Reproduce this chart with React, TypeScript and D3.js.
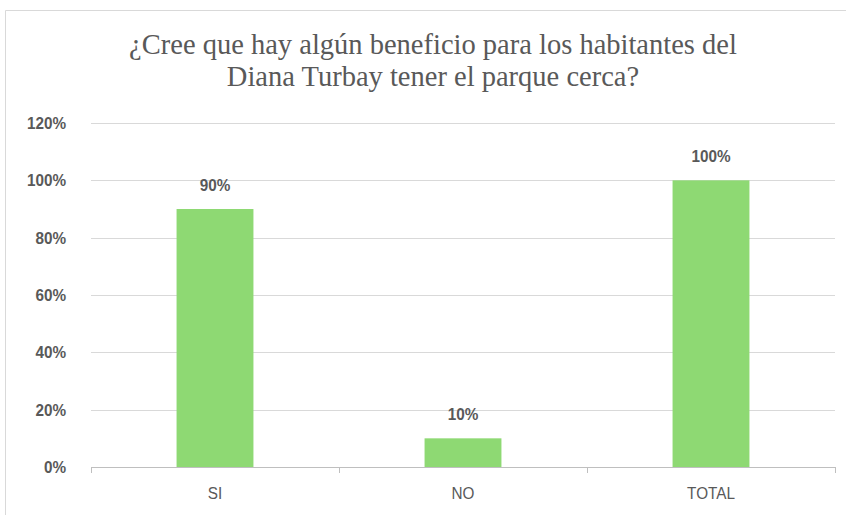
import React from "react";
import * as d3 from "d3";

const categories = ["SI", "NO", "TOTAL"];
const values = [0.9, 0.1, 1.0];
const valueLabels = ["90%", "10%", "100%"];
const yTicks = [0, 0.2, 0.4, 0.6, 0.8, 1.0, 1.2];
const titleLines = [
  "¿Cree que hay algún beneficio para los habitantes del",
  "Diana Turbay tener el parque cerca?",
];

const W = 846;
const H = 515;
const margin = { left: 91, right: 11, top: 123, bottom: 48 };
const sans = "'Liberation Sans', Arial, sans-serif";
const SX = 0.9;

function NText({ x, y, anchor, bold, size, children }: any) {
  return (
    <text
      transform={`translate(${x},${y}) scale(${SX},1)`}
      textAnchor={anchor}
      fontFamily={sans}
      fontWeight={bold ? "bold" : "normal"}
      fontSize={size}
      fill="#595959"
    >
      {children}
    </text>
  );
}

export default function App() {
  const x = d3
    .scaleBand<string>()
    .domain(categories)
    .range([margin.left, W - margin.right])
    .paddingInner(0.69)
    .paddingOuter(0.345);
  const y = d3.scaleLinear().domain([0, 1.2]).range([H - margin.bottom, margin.top]);
  const bandEdges = d3.scaleBand<string>().domain(categories).range([margin.left, W - margin.right]);
  const tickXs = [...categories.map((c) => bandEdges(c)!), W - margin.right];

  return (
    <svg
      width={W}
      height={H}
      style={{ position: "absolute", left: 0, top: 0, background: "#fff" }}
    >
      <rect x={0} y={0} width={W} height={H} fill="#fff" />
      <path d={`M5.5,${H} V10.5 H${W}`} fill="none" stroke="#d9d9d9" strokeWidth={1} />
      {titleLines.map((t, i) => (
        <text
          key={i}
          x={433}
          y={54 + i * 32}
          textAnchor="middle"
          fontFamily="'Liberation Serif', 'Times New Roman', serif"
          fontSize={28.5}
          fill="#595959"
        >
          {t}
        </text>
      ))}
      {yTicks.map((t) => (
        <g key={t}>
          {t > 0 && (
            <line
              x1={margin.left}
              x2={W - margin.right}
              y1={Math.round(y(t)) + 0.5}
              y2={Math.round(y(t)) + 0.5}
              stroke="#d9d9d9"
              strokeWidth={1}
            />
          )}
          <NText x={66} y={y(t) + 6} anchor="end" bold size={17}>
            {d3.format(".0%")(t)}
          </NText>
        </g>
      ))}
      {categories.map((c, i) => (
        <rect
          key={c}
          x={x(c)!}
          y={y(values[i])}
          width={x.bandwidth()}
          height={y(0) - y(values[i])}
          fill="#8ED973"
        />
      ))}
      <line
        x1={margin.left}
        x2={W - margin.right}
        y1={Math.round(y(0)) + 0.5}
        y2={Math.round(y(0)) + 0.5}
        stroke="#bfbfbf"
      />
      {tickXs.map((tx, i) => (
        <line
          key={i}
          x1={Math.round(tx) + 0.5}
          x2={Math.round(tx) + 0.5}
          y1={y(0)}
          y2={y(0) + 6}
          stroke="#bfbfbf"
        />
      ))}
      {categories.map((c, i) => (
        <NText
          key={c}
          x={x(c)! + x.bandwidth() / 2}
          y={y(values[i]) - 18}
          anchor="middle"
          bold
          size={17}
        >
          {valueLabels[i]}
        </NText>
      ))}
      {categories.map((c) => (
        <NText key={c} x={x(c)! + x.bandwidth() / 2} y={499} anchor="middle" size={17}>
          {c}
        </NText>
      ))}
    </svg>
  );
}
